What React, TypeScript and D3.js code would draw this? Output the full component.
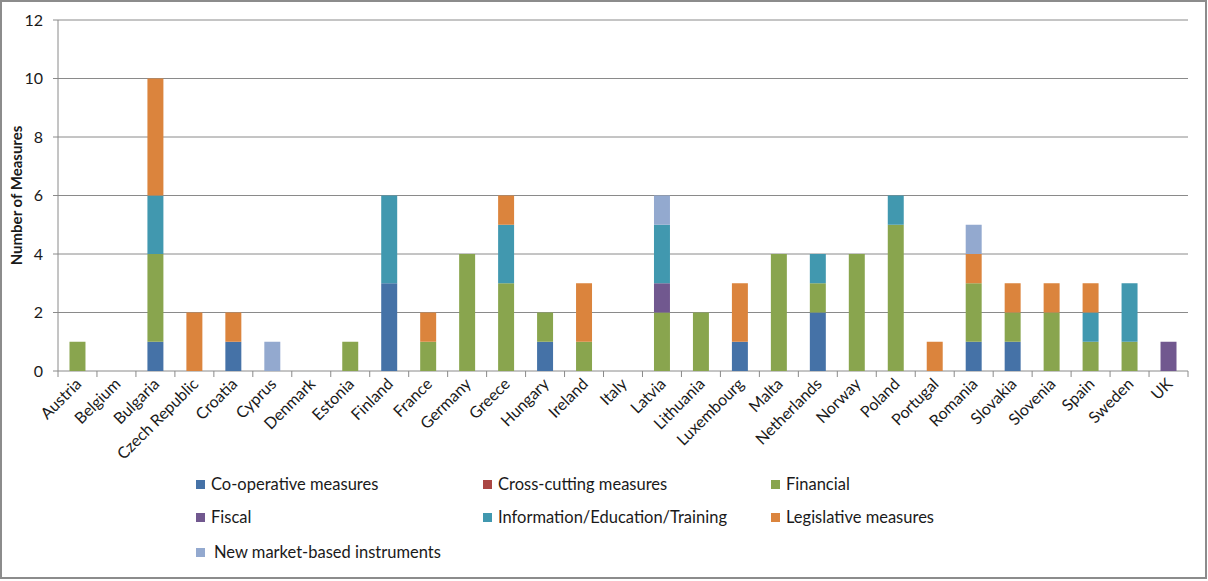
import React from "react";
import * as d3 from "d3";

const countries = ["Austria","Belgium","Bulgaria","Czech Republic","Croatia","Cyprus","Denmark","Estonia","Finland","France","Germany","Greece","Hungary","Ireland","Italy","Latvia","Lithuania","Luxembourg","Malta","Netherlands","Norway","Poland","Portugal","Romania","Slovakia","Slovenia","Spain","Sweden","UK"];

const seriesNames = ["Co-operative measures","Cross-cutting measures","Financial","Fiscal","Information/Education/Training","Legislative measures","New market-based instruments"];
const seriesColors = ["#4572A7","#AA4643","#89A54E","#71588F","#4198AF","#DB843D","#93A9CF"];

const cooperative = [0,0,1,0,1,0,0,0,3,0,0,0,1,0,0,0,0,1,0,2,0,0,0,1,1,0,0,0,0];
const crossCutting = [0,0,0,0,0,0,0,0,0,0,0,0,0,0,0,0,0,0,0,0,0,0,0,0,0,0,0,0,0];
const financial = [1,0,3,0,0,0,0,1,0,1,4,3,1,1,0,2,2,0,4,1,4,5,0,2,1,2,1,1,0];
const fiscal = [0,0,0,0,0,0,0,0,0,0,0,0,0,0,0,1,0,0,0,0,0,0,0,0,0,0,0,0,1];
const information = [0,0,2,0,0,0,0,0,3,0,0,2,0,0,0,2,0,0,0,1,0,1,0,0,0,0,1,2,0];
const legislative = [0,0,4,2,1,0,0,0,0,1,0,1,0,2,0,0,0,2,0,0,0,0,1,1,1,1,1,0,0];
const newMarket = [0,0,0,0,0,1,0,0,0,0,0,0,0,0,0,1,0,0,0,0,0,0,0,1,0,0,0,0,0];

const yTicks = [0,2,4,6,8,10,12];

const W = 1208, H = 581;
const left = 58, right = 1188, top = 20, bottom = 371;
const FONT = "Lato, 'Open Sans', sans-serif";

export default function App() {
  const seriesValues = [cooperative, crossCutting, financial, fiscal, information, legislative, newMarket];
  const table = countries.map((c, i) => {
    const row: any = { country: c };
    seriesNames.forEach((s, k) => (row[s] = seriesValues[k][i]));
    return row;
  });
  const stack = d3.stack<any>().keys(seriesNames)(table);
  const x = d3.scaleBand().domain(countries).range([left, right]).paddingInner(0.59).paddingOuter(0.295);
  const band = (right - left) / countries.length;
  const y = d3.scaleLinear().domain([0, 12]).range([bottom, top]);

  const legendCols = [196, 483, 771];
  const legendRows = [484.5, 517.5, 552.5];

  return (
    <svg width={W} height={H} style={{ position: "absolute", left: 0, top: 0, background: "#fff" }} fontFamily={FONT}>
      <rect x={1} y={1} width={W - 3} height={H - 4} fill="#fff" stroke="#8c8c8c" strokeWidth={2} />
      {yTicks.map((t) => (
        <g key={t}>
          <line x1={53} x2={right} y1={y(t)} y2={y(t)} stroke="#8a8a8a" strokeWidth={1} />
          <text x={43} y={y(t)} dy="0.36em" textAnchor="end" fontSize={16} fill="#1a1a1a">{t}</text>
        </g>
      ))}
      <line x1={left} x2={left} y1={top} y2={bottom} stroke="#8a8a8a" strokeWidth={1} />
      {d3.range(countries.length + 1).map((i) => (
        <line key={i} x1={left + i * band} x2={left + i * band} y1={bottom} y2={bottom + 6} stroke="#8a8a8a" strokeWidth={1} />
      ))}
      {stack.map((s, k) => (
        <g key={s.key} fill={seriesColors[k]}>
          {s.map((d, i) =>
            d[1] - d[0] > 0 ? (
              <rect key={i} x={x(countries[i])} width={x.bandwidth()} y={y(d[1])} height={y(d[0]) - y(d[1])} />
            ) : null
          )}
        </g>
      ))}
      {countries.map((c) => {
        const cx = (x(c) as number) + x.bandwidth() / 2;
        return (
          <text key={c} transform={`translate(${cx + 5},${bottom + 14}) rotate(-45)`} textAnchor="end" fontSize={16} fill="#1a1a1a">
            {c}
          </text>
        );
      })}
      <text transform={`translate(22,${(top + bottom) / 2}) rotate(-90)`} textAnchor="middle" fontSize={15} fontWeight="bold" fill="#1a1a1a">
        Number of Measures
      </text>
      {seriesNames.map((s, k) => {
        const col = k % 3, row = Math.floor(k / 3);
        const lx = legendCols[col], ly = legendRows[row];
        const extra = k === 6 ? 3 : 0;
        return (
          <g key={s}>
            <rect x={lx} y={ly - 4.5} width={9} height={9} fill={seriesColors[k]} />
            <text x={lx + 15 + extra} y={ly} dy="0.36em" fontSize={16.5} fill="#1a1a1a">{s}</text>
          </g>
        );
      })}
    </svg>
  );
}
